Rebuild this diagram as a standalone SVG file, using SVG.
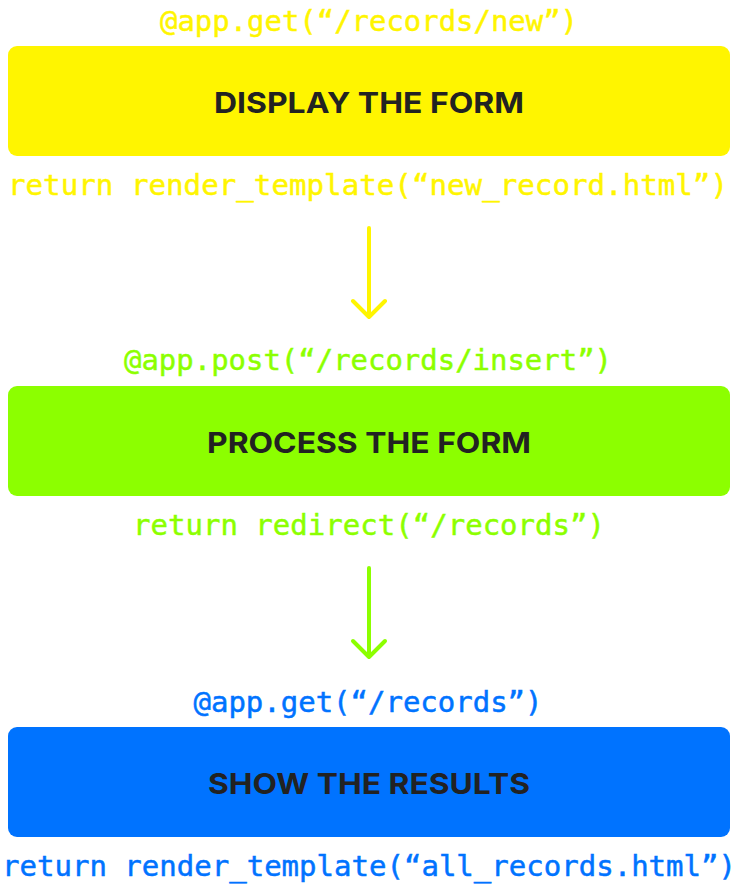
<svg xmlns="http://www.w3.org/2000/svg" width="739" height="884" viewBox="0 0 739 884">
<style>
.code{font-family:"DejaVu Sans Mono","Liberation Mono",monospace;font-size:29px;text-anchor:middle;stroke-width:0.5px}
.title{font-family:Inter,"Liberation Sans",sans-serif;font-weight:700;font-size:29px;fill:#222222;text-anchor:middle}
.y{fill:#FFF500;stroke:#FFF500}.g{fill:#8CFF00;stroke:#8CFF00}.b{fill:#0073FF;stroke:#0073FF}
rect.y,rect.g,rect.b{stroke:none}
.arr{fill:none;stroke-width:4;stroke-linecap:round;stroke-linejoin:round}
</style>
<rect width="739" height="884" fill="#ffffff"/>
<g id="node-display">
<text class="code y" x="369" y="31" textLength="418" lengthAdjust="spacingAndGlyphs">@app.get(“/records/new”)</text>
<rect class="y" x="8" y="46" width="722" height="110" rx="9"/>
<text class="title" x="369" y="113" textLength="310" lengthAdjust="spacingAndGlyphs">DISPLAY THE FORM</text>
<text class="code y" x="368" y="195" textLength="720" lengthAdjust="spacingAndGlyphs">return render_template(“new_record.html”)</text>
</g>
<g id="node-process">
<text class="code g" x="368" y="370" textLength="488" lengthAdjust="spacingAndGlyphs">@app.post(“/records/insert”)</text>
<rect class="g" x="8" y="386" width="722" height="110" rx="9"/>
<text class="title" x="369" y="453" textLength="324" lengthAdjust="spacingAndGlyphs">PROCESS THE FORM</text>
<text class="code g" x="369" y="535" textLength="472" lengthAdjust="spacingAndGlyphs">return redirect(“/records”)</text>
</g>
<g id="node-show">
<text class="code b" x="368" y="712" textLength="349" lengthAdjust="spacingAndGlyphs">@app.get(“/records”)</text>
<rect class="b" x="8" y="727" width="722" height="110" rx="9"/>
<text class="title" x="369" y="794" textLength="322" lengthAdjust="spacingAndGlyphs">SHOW THE RESULTS</text>
<text class="code b" x="369" y="876" textLength="734" lengthAdjust="spacingAndGlyphs">return render_template(“all_records.html”)</text>
</g>
<g id="connectors">
<path class="arr" stroke="#FFF500" d="M369 228 V317 M353 301 L369 317 L385 301"/>
<path class="arr" stroke="#8CFF00" d="M369 568 V657 M353 641 L369 657 L385 641"/>
</g>
</svg>
